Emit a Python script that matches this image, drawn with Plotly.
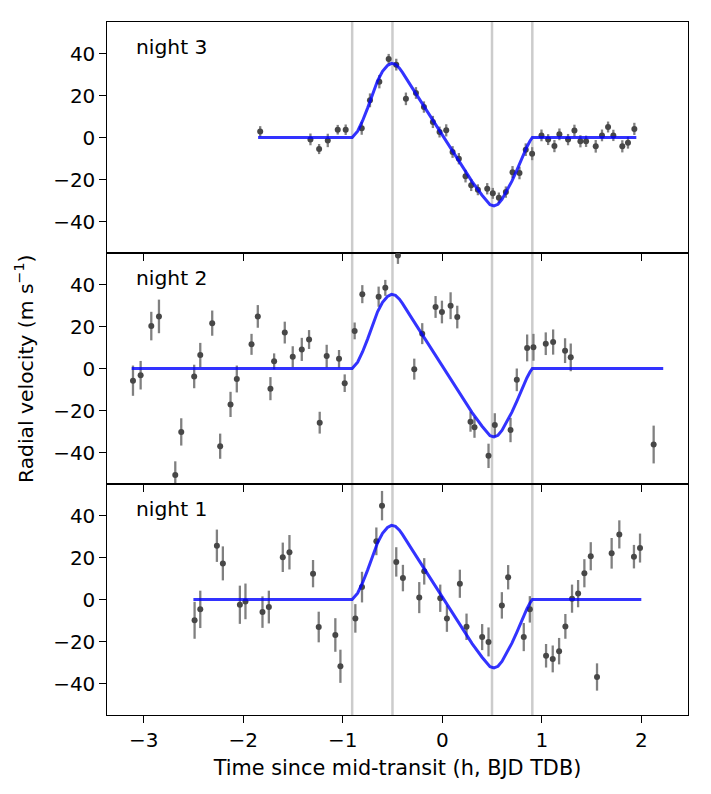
import plotly.graph_objects as go
from plotly.subplots import make_subplots

# ---------------- data ----------------
N3_T = [-1.829, -1.324, -1.237, -1.150, -1.050, -0.970, -0.809, -0.726, -0.632, -0.538,
        -0.462, -0.365, -0.264, -0.184, -0.094, -0.027, 0.040, 0.104, 0.167, 0.234,
        0.291, 0.358, 0.452, 0.508, 0.569, 0.639, 0.706, 0.776, 0.839, 0.903,
        0.997, 1.064, 1.127, 1.177, 1.264, 1.328, 1.388, 1.445, 1.542, 1.605,
        1.666, 1.719, 1.809, 1.866, 1.930]
N3_RV = [2.9, -0.9, -5.5, -1.4, 3.7, 3.7, 4.4, 17.7, 26.6, 37.4,
         34.7, 18.4, 21.2, 14.5, 7.4, 2.6, 3.4, -6.9, -10.1, -18.4,
         -22.7, -24.9, -24.4, -26.6, -28.7, -26.0, -16.5, -16.9, -5.8, -7.7,
         1.0, -1.0, -4.1, 1.5, -1.0, 3.3, -1.8, -1.8, -4.2, 1.0,
         5.0, 1.0, -4.2, -2.5, 4.1]
N3_ERR = [2.5, 2.8, 2.4, 3.2, 2.3, 2.5, 3.1, 3.3, 3.2, 2.4,
          2.8, 3.0, 2.8, 2.7, 2.9, 2.6, 2.9, 2.8, 2.7, 3.0,
          2.8, 2.6, 2.7, 2.6, 2.5, 2.7, 2.9, 3.0, 3.0, 3.1,
          2.8, 2.6, 2.9, 2.8, 2.7, 2.8, 2.9, 2.7, 3.0, 2.8,
          2.6, 2.7, 2.9, 2.8, 2.9]

N2_T = [-3.107, -3.030, -2.923, -2.846, -2.682, -2.622, -2.492, -2.431, -2.311, -2.231,
        -2.127, -2.064, -1.916, -1.853, -1.726, -1.689, -1.582, -1.502, -1.411, -1.338,
        -1.231, -1.161, -1.037, -0.980, -0.880, -0.803, -0.639, -0.572, -0.445, -0.281,
        -0.201, -0.067, -0.003, 0.084, 0.151, 0.284, 0.324, 0.465, 0.528, 0.686,
        0.749, 0.853, 0.916, 1.040, 1.114, 1.234, 1.291, 2.124]
N2_RV = [-5.8, -3.2, 20.2, 24.8, -50.7, -30.2, -3.8, 6.4, 21.6, -37.0,
         -17.1, -5.0, 11.5, 24.8, -9.6, 3.4, 17.1, 5.6, 9.1, 13.8,
         -25.8, 5.9, 4.6, -7.0, 17.9, 35.4, 34.2, 38.4, 53.8, -0.3,
         16.6, 29.3, 26.9, 29.9, 24.5, -25.3, -28.0, -41.6, -26.9, -29.3,
         -5.4, 9.8, 10.1, 11.8, 12.6, 8.5, 5.3, -36.2]
N2_ERR = [7.2, 6.8, 6.8, 8.0, 6.5, 6.5, 5.6, 5.8, 6.0, 6.0,
          6.0, 6.4, 5.0, 5.4, 5.5, 3.8, 5.2, 5.0, 5.5, 4.5,
          5.2, 5.4, 4.2, 4.2, 4.0, 4.3, 4.8, 3.8, 4.0, 5.0,
          5.0, 5.2, 5.4, 6.4, 5.4, 4.8, 5.0, 5.8, 5.6, 5.8,
          5.4, 6.4, 6.4, 5.4, 6.0, 5.9, 6.6, 9.0]

N1_T = [-2.488, -2.431, -2.264, -2.204, -2.033, -1.977, -1.806, -1.742, -1.602, -1.535,
        -1.298, -1.241, -1.074, -1.023, -0.873, -0.806, -0.662, -0.605, -0.462, -0.395,
        -0.231, -0.181, -0.020, 0.047, 0.177, 0.244, 0.401, 0.465, 0.599, 0.662,
        0.819, 0.880, 1.043, 1.110, 1.174, 1.237, 1.304, 1.365, 1.428, 1.492,
        1.555, 1.702, 1.779, 1.926, 1.987]
N1_RV = [-9.9, -4.7, 25.6, 17.2, -2.5, -0.9, -6.0, -3.6, 20.1, 22.5,
         12.3, -13.1, -16.9, -31.8, -9.0, 5.9, 27.7, 44.7, 17.9, 10.2,
         0.9, 13.4, 0.6, -9.1, 7.5, -13.0, -17.9, -20.2, -2.8, 10.6,
         -17.9, -4.7, -26.8, -28.3, -24.6, -12.8, 0.4, 2.8, 12.5, 20.6,
         -36.9, 22.0, 31.0, 20.4, 24.5]
N1_ERR = [8.8, 8.9, 7.7, 8.1, 9.1, 8.5, 7.5, 7.8, 7.0, 8.2,
          6.5, 7.3, 8.0, 7.9, 6.8, 7.3, 6.6, 7.0, 7.0, 6.3,
          7.4, 6.3, 6.5, 6.3, 6.7, 6.3, 6.2, 6.9, 6.3, 5.8,
          6.7, 6.3, 5.6, 6.4, 6.3, 5.9, 6.7, 6.5, 6.7, 6.7,
          6.5, 7.3, 6.7, 5.6, 6.9]

# Model curve (transit part)
MODEL_T = [-0.905, -0.85, -0.8, -0.75, -0.7, -0.65, -0.6, -0.55, -0.51, -0.47, -0.43,
           -0.4, -0.3, -0.2, -0.1, 0.0, 0.1, 0.2, 0.3, 0.4, 0.44, 0.48, 0.52, 0.56,
           0.6, 0.65, 0.7, 0.75, 0.8, 0.85, 0.88, 0.905]
MODEL_RV = [0, 3, 8, 14, 21, 27, 31.5, 34.3, 35.3, 34.8, 33,
            31, 23.5, 16, 8.5, 1, -6.5, -13.8, -21, -27.5, -30.0, -32.0, -32.6, -31.8,
            -29.5, -25.5, -20.8, -15.5, -9.8, -4.5, -1.8, 0]

# Line extents per night (flat parts of the model)
NIGHTS = ["night 3", "night 2", "night 1"]
LINE_START = [-1.85, -3.12, -2.50]
LINE_END = [1.95, 2.22, 2.00]

CONTACTS = [-0.905, -0.5, 0.5, 0.905]

X_TICKS = [-3, -2, -1, 0, 1, 2]
Y_TICKS = [-40, -20, 0, 20, 40]

# ---------------- figure ----------------
FONT = "DejaVu Sans"
fig = make_subplots(rows=3, cols=1, shared_xaxes=True, vertical_spacing=0)

data = [(N3_T, N3_RV, N3_ERR), (N2_T, N2_RV, N2_ERR), (N1_T, N1_RV, N1_ERR)]

for i, (t, rv, err) in enumerate(data):
    row = i + 1
    fig.add_trace(go.Scatter(
        x=t, y=rv, mode="markers",
        marker=dict(color="#474747", size=6),
        error_y=dict(type="data", array=err, visible=True, color="#808080",
                     thickness=2.3, width=0),
        showlegend=False, hoverinfo="skip"), row=row, col=1)
    mx = [LINE_START[i]] + MODEL_T + [LINE_END[i]]
    my = [0] + MODEL_RV + [0]
    fig.add_trace(go.Scatter(
        x=mx, y=my, mode="lines",
        line=dict(color="rgba(0,0,255,0.8)", width=3),
        showlegend=False, hoverinfo="skip"), row=row, col=1)
    yname = "y" if row == 1 else f"y{row}"
    fig.add_annotation(text=NIGHTS[i], x=-3.095, xref=("x" if row == 1 else f"x{row}"),
                       y=0.892, yref=f"{yname} domain",
                       xanchor="left", yanchor="middle", showarrow=False,
                       font=dict(family=FONT, size=20.3, color="black"))

for c in CONTACTS:
    fig.add_vline(x=c, row="all", col=1, line=dict(color="#cccccc", width=2.5),
                  layer="below")

axis_common = dict(showline=True, linecolor="black", linewidth=1.3, mirror=True,
                   ticks="outside", ticklen=6.5, tickwidth=1.3, tickcolor="black",
                   showgrid=False, zeroline=False,
                   tickfont=dict(family=FONT, size=20, color="black"))

for row in (1, 2, 3):
    fig.update_xaxes(range=[-3.368, 2.469], tickvals=X_TICKS, row=row, col=1, **axis_common)
    fig.update_yaxes(range=[-55, 55], tickvals=Y_TICKS, row=row, col=1, **axis_common)

fig.update_xaxes(title=dict(text="Time since mid-transit (h, BJD TDB)",
                            font=dict(family=FONT, size=20.8, color="black"), standoff=9),
                 row=3, col=1)

fig.add_annotation(text="Radial velocity (m s<sup>−1</sup>)", textangle=-90,
                   x=-0.142, xref="paper", y=0.5, yref="paper",
                   xanchor="center", yanchor="middle", showarrow=False,
                   font=dict(family=FONT, size=20.3, color="black"))

fig.update_layout(width=711, height=794,
                  margin=dict(l=107, r=23, t=22, b=79),
                  paper_bgcolor="white", plot_bgcolor="white",
                  font=dict(family=FONT, size=20, color="black"))

fig.write_html("out.html")
